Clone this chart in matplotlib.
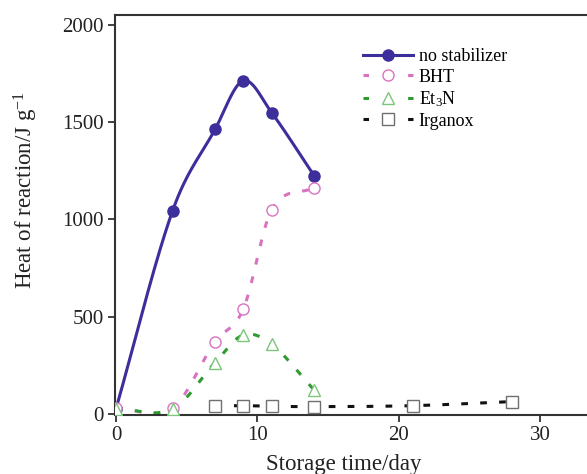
import numpy as np
import matplotlib
matplotlib.use("Agg")
import matplotlib.pyplot as plt

# Heat of reaction (J/g) versus storage time (days) for each stabilizer
days_none = [0, 4, 7, 9, 11, 14]
heat_none = [30, 1045, 1462, 1712, 1548, 1225]

days_bht = [0, 4, 7, 9, 11, 14]
heat_bht = [33, 33, 373, 541, 1049, 1163]

days_et3n = [0, 4, 7, 9, 11, 14]
heat_et3n = [30, 28, 266, 408, 360, 126]

days_irg = [7, 9, 11, 14, 21, 28]
heat_irg = [45, 45, 42, 40, 45, 66]

labels = ["no stabilizer", "BHT", "Et$_3$N", "Irganox"]
x_ticks = [0, 10, 20, 30]
y_ticks = [0, 500, 1000, 1500, 2000]


def smooth_curve(x, y, n=60):
    """Cubic Hermite curve through (x, y) with Catmull-Rom style tangents."""
    x = np.asarray(x, float)
    y = np.asarray(y, float)
    k = len(x)
    m = np.zeros(k)
    m[0] = (y[1] - y[0]) / (x[1] - x[0])
    m[-1] = (y[-1] - y[-2]) / (x[-1] - x[-2])
    for i in range(1, k - 1):
        m[i] = (y[i + 1] - y[i - 1]) / (x[i + 1] - x[i - 1])
    xs_all, ys_all = [], []
    for i in range(k - 1):
        h = x[i + 1] - x[i]
        t = np.linspace(0, 1, n)
        h00 = 2 * t ** 3 - 3 * t ** 2 + 1
        h10 = t ** 3 - 2 * t ** 2 + t
        h01 = -2 * t ** 3 + 3 * t ** 2
        h11 = t ** 3 - t ** 2
        xs_all.append(x[i] + t * h)
        ys_all.append(h00 * y[i] + h10 * h * m[i] + h01 * y[i + 1] + h11 * h * m[i + 1])
    return np.concatenate(xs_all), np.concatenate(ys_all)


plt.rcParams["font.family"] = ["Liberation Serif", "DejaVu Serif"]
plt.rcParams["mathtext.fontset"] = "custom"
plt.rcParams["mathtext.rm"] = "Liberation Serif"
plt.rcParams["mathtext.it"] = "Liberation Serif"

fig = plt.figure(figsize=(5.87, 4.74), dpi=100)
ax = fig.add_axes([0.196, 0.124, 0.804, 0.844])

c_none = "#3d2f9b"
c_bht = "#d873c2"
c_et = "#2f9a2f"
c_et_mk = "#7cc67c"
c_irg = "#111111"
c_irg_mk = "#707070"

series = [
    (days_none, heat_none, c_none, "-", "o", c_none, c_none, 8),
    (days_bht, heat_bht, c_bht, "--", "o", "white", c_bht, 8),
    (days_et3n, heat_et3n, c_et, "--", "^", "white", c_et_mk, 9),
    (days_irg, heat_irg, c_irg, "--", "s", "white", c_irg_mk, 8),
]

handles = []
for (xd, yd, col, ls, mk, mfc, mec, ms), lab in zip(series, labels):
    xs, ys = smooth_curve(xd, yd)
    if ls == "-":
        ax.plot(xs, ys, color=col, lw=2.2, zorder=2)
    else:
        ax.plot(xs, ys, color=col, lw=2.2, dashes=(2.2, 4.0), zorder=2)
    ax.plot(xd, yd, linestyle="none", marker=mk, markersize=ms,
            markerfacecolor=mfc, markeredgecolor=mec, markeredgewidth=1.0, zorder=3)
    h, = ax.plot([], [], color=col, lw=2.2, linestyle=ls,
                 marker=mk, markersize=ms, markerfacecolor=mfc,
                 markeredgecolor=mec, markeredgewidth=1.0, label=lab)
    if ls != "-":
        h.set_dashes((1.8, 12.8))
    handles.append(h)

ax.set_xlim(-0.07, 33.3)
ax.set_ylim(-4, 2048)
ax.set_xticks(x_ticks)
ax.set_yticks(y_ticks)
ax.tick_params(direction="out", length=5, width=1.3, color="#333333",
               labelsize=15, labelcolor="#222222", pad=3)

for side in ["left", "top", "bottom"]:
    ax.spines[side].set_linewidth(1.5)
    ax.spines[side].set_color("#333333")
ax.spines["right"].set_visible(False)

ax.set_xlabel("Storage time/day", fontsize=16.5, color="#222222")
ax.xaxis.set_label_coords(0.485, -0.097)
ax.set_ylabel("Heat of reaction/J g$^{-1}$", fontsize=16.5, color="#222222")
ax.yaxis.set_label_coords(-0.158, 0.5625)

leg = ax.legend(handles=handles, loc="upper left", bbox_to_anchor=(0.525, 0.918),
                frameon=False, fontsize=13, handlelength=2.8, handletextpad=0.3,
                labelspacing=0.2, borderpad=0, borderaxespad=0)

fig.savefig("out.png", dpi=100)
